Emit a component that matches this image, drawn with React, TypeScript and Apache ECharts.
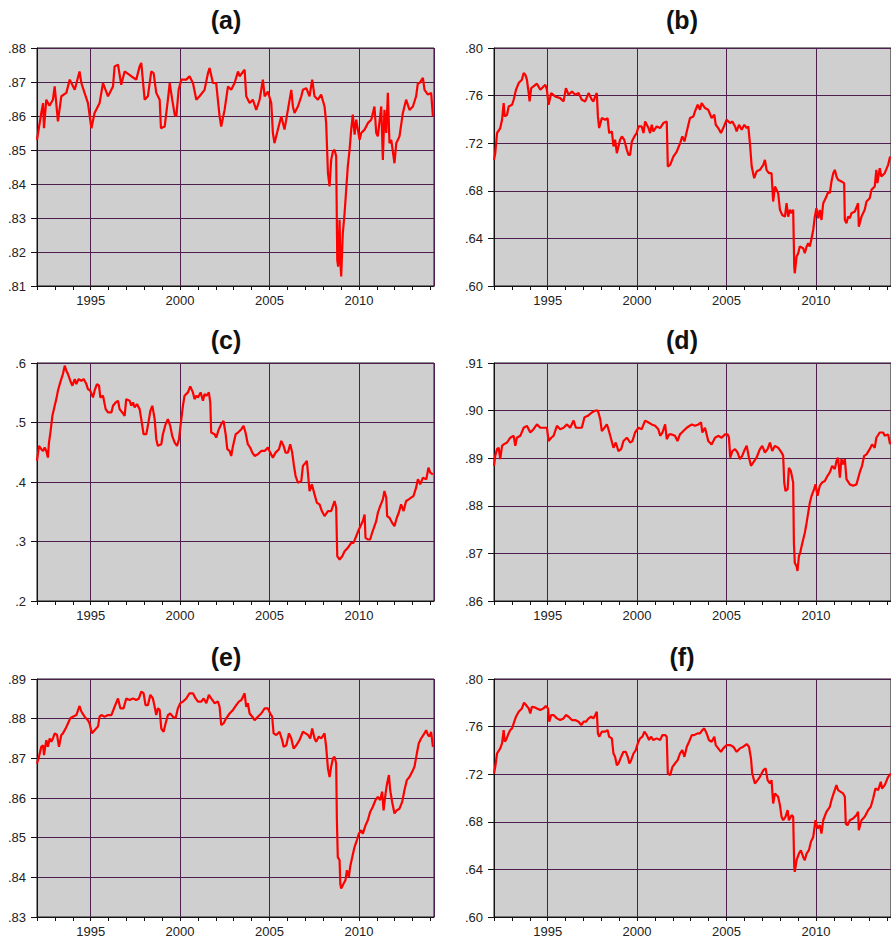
import React, { useEffect, useRef } from "react";
import * as echarts from "echarts";

const panelTitles = ["(a)", "(b)", "(c)", "(d)", "(e)", "(f)"];
const yMins = [0.81, 0.6, 0.2, 0.86, 0.83, 0.6];
const yMaxs = [0.88, 0.8, 0.6, 0.91, 0.89, 0.8];
const yIntervals = [0.01, 0.04, 0.1, 0.01, 0.01, 0.04];
const yDecimals = [2, 2, 1, 2, 2, 2];
const xStart = 1992;
const xEnd = 2014.2;
const majorYearStep = 5;

const dataA: number[][] = [[1992.00,.8530],[1992.24,.8609],[1992.34,.8638],[1992.39,.8564],[1992.52,.8648],[1992.70,.8630],[1992.89,.8648],[1992.99,.8687],[1993.17,.8584],[1993.36,.8658],[1993.64,.8668],[1993.83,.8707],[1994.11,.8677],[1994.38,.8731],[1994.48,.8697],[1994.66,.8668],[1994.85,.8638],[1995.04,.8564],[1995.22,.8609],[1995.50,.8638],[1995.69,.8697],[1995.97,.8658],[1996.25,.8687],[1996.34,.8746],[1996.53,.8751],[1996.71,.8692],[1996.90,.8731],[1997.27,.8717],[1997.55,.8707],[1997.74,.8746],[1997.83,.8756],[1998.02,.8648],[1998.20,.8658],[1998.39,.8731],[1998.52,.8726],[1998.67,.8668],[1998.86,.8648],[1998.93,.8564],[1999.14,.8569],[1999.32,.8648],[1999.42,.8697],[1999.56,.8648],[1999.70,.8604],[1999.79,.8599],[1999.92,.8677],[2000.07,.8707],[2000.35,.8707],[2000.53,.8717],[2000.72,.8697],[2000.91,.8648],[2001.09,.8658],[2001.37,.8677],[2001.56,.8726],[2001.65,.8741],[2001.84,.8697],[2002.02,.8697],[2002.21,.8599],[2002.30,.8569],[2002.49,.8618],[2002.68,.8687],[2002.86,.8677],[2003.05,.8697],[2003.24,.8731],[2003.33,.8717],[2003.61,.8736],[2003.70,.8658],[2003.89,.8638],[2004.07,.8648],[2004.26,.8618],[2004.45,.8648],[2004.63,.8707],[2004.73,.8658],[2004.91,.8672],[2005.10,.8638],[2005.19,.8550],[2005.28,.8520],[2005.47,.8560],[2005.66,.8599],[2005.84,.8560],[2006.03,.8618],[2006.22,.8677],[2006.31,.8628],[2006.40,.8609],[2006.59,.8628],[2006.78,.8658],[2006.87,.8677],[2007.06,.8682],[2007.24,.8658],[2007.39,.8707],[2007.52,.8658],[2007.71,.8648],[2007.89,.8663],[2008.08,.8628],[2008.17,.8579],[2008.27,.8432],[2008.36,.8393],[2008.45,.8471],[2008.55,.8496],[2008.64,.8501],[2008.73,.8481],[2008.79,.8177],[2008.84,.8157],[2008.92,.8295],[2008.96,.8177],[2009.01,.8128],[2009.10,.8255],[2009.20,.8314],[2009.29,.8383],[2009.38,.8452],[2009.48,.8501],[2009.57,.8560],[2009.66,.8604],[2009.76,.8545],[2009.85,.8589],[2010.04,.8530],[2010.13,.8550],[2010.32,.8560],[2010.50,.8579],[2010.69,.8589],[2010.87,.8628],[2010.97,.8550],[2011.06,.8540],[2011.25,.8628],[2011.34,.8471],[2011.43,.8618],[2011.53,.8550],[2011.62,.8668],[2011.71,.8520],[2011.81,.8530],[2011.99,.8461],[2012.09,.8520],[2012.27,.8540],[2012.46,.8609],[2012.64,.8648],[2012.83,.8618],[2013.02,.8628],[2013.20,.8658],[2013.30,.8697],[2013.39,.8697],[2013.58,.8712],[2013.67,.8677],[2013.86,.8663],[2014.04,.8668],[2014.14,.8599]];

const dataB: number[][] = [[1992.00,.7060],[1992.07,.7116],[1992.17,.7285],[1992.35,.7327],[1992.45,.7397],[1992.54,.7537],[1992.60,.7425],[1992.73,.7439],[1992.82,.7509],[1993.01,.7523],[1993.10,.7565],[1993.23,.7649],[1993.38,.7705],[1993.56,.7734],[1993.66,.7790],[1993.75,.7776],[1993.84,.7734],[1993.94,.7621],[1993.99,.7551],[1994.08,.7663],[1994.21,.7677],[1994.40,.7700],[1994.59,.7649],[1994.77,.7677],[1994.87,.7691],[1994.96,.7649],[1995.05,.7523],[1995.20,.7621],[1995.42,.7593],[1995.70,.7579],[1995.89,.7551],[1996.02,.7663],[1996.17,.7607],[1996.36,.7635],[1996.54,.7607],[1996.73,.7621],[1996.91,.7565],[1997.10,.7551],[1997.29,.7621],[1997.47,.7565],[1997.56,.7551],[1997.66,.7593],[1997.75,.7621],[1997.81,.7425],[1997.88,.7327],[1998.03,.7411],[1998.22,.7397],[1998.35,.7411],[1998.44,.7285],[1998.59,.7299],[1998.68,.7173],[1998.77,.7229],[1998.87,.7116],[1998.96,.7173],[1999.05,.7229],[1999.15,.7257],[1999.28,.7229],[1999.43,.7144],[1999.52,.7102],[1999.61,.7102],[1999.71,.7215],[1999.85,.7257],[1999.98,.7285],[2000.08,.7341],[2000.26,.7341],[2000.36,.7285],[2000.45,.7383],[2000.64,.7327],[2000.73,.7285],[2000.82,.7355],[2000.91,.7299],[2001.10,.7341],[2001.29,.7327],[2001.47,.7369],[2001.66,.7383],[2001.72,.7004],[2001.85,.7018],[2002.03,.7088],[2002.22,.7130],[2002.41,.7201],[2002.53,.7257],[2002.65,.7215],[2002.78,.7299],[2002.96,.7411],[2003.15,.7425],[2003.24,.7467],[2003.39,.7523],[2003.52,.7481],[2003.61,.7537],[2003.80,.7495],[2003.98,.7481],[2004.17,.7411],[2004.32,.7439],[2004.40,.7355],[2004.54,.7327],[2004.69,.7285],[2004.82,.7327],[2005.01,.7397],[2005.20,.7369],[2005.33,.7383],[2005.48,.7341],[2005.57,.7299],[2005.70,.7355],[2005.85,.7313],[2006.00,.7355],[2006.13,.7327],[2006.22,.7341],[2006.31,.7201],[2006.41,.7004],[2006.55,.6906],[2006.68,.6962],[2006.87,.6976],[2007.06,.7018],[2007.15,.7060],[2007.24,.6976],[2007.37,.6948],[2007.52,.6948],[2007.61,.6710],[2007.71,.6836],[2007.80,.6808],[2007.89,.6780],[2007.99,.6640],[2008.12,.6597],[2008.27,.6583],[2008.36,.6696],[2008.45,.6583],[2008.55,.6640],[2008.64,.6612],[2008.73,.6640],[2008.79,.6163],[2008.82,.6107],[2008.92,.6247],[2009.01,.6275],[2009.10,.6331],[2009.29,.6317],[2009.38,.6275],[2009.48,.6331],[2009.57,.6359],[2009.66,.6331],[2009.76,.6401],[2009.85,.6471],[2009.94,.6583],[2010.03,.6654],[2010.13,.6569],[2010.22,.6640],[2010.31,.6555],[2010.41,.6696],[2010.59,.6752],[2010.69,.6794],[2010.78,.6780],[2010.87,.6878],[2010.97,.6948],[2011.06,.6976],[2011.15,.6920],[2011.24,.6892],[2011.43,.6878],[2011.58,.6864],[2011.62,.6555],[2011.71,.6527],[2011.80,.6583],[2011.90,.6569],[2011.99,.6612],[2012.18,.6626],[2012.36,.6696],[2012.40,.6499],[2012.55,.6583],[2012.73,.6640],[2012.83,.6710],[2013.01,.6738],[2013.11,.6808],[2013.29,.6836],[2013.38,.6976],[2013.44,.6864],[2013.57,.6990],[2013.66,.6920],[2013.85,.6948],[2014.04,.7018],[2014.15,.7088]];

const dataC: number[][] = [[1992.00,.4354],[1992.11,.4607],[1992.24,.4551],[1992.34,.4522],[1992.43,.4579],[1992.52,.4522],[1992.61,.4410],[1992.67,.4663],[1992.75,.4831],[1992.86,.5112],[1992.99,.5281],[1993.08,.5393],[1993.17,.5534],[1993.30,.5674],[1993.45,.5815],[1993.55,.5955],[1993.64,.5871],[1993.73,.5815],[1993.86,.5702],[1993.98,.5618],[1994.11,.5730],[1994.20,.5646],[1994.33,.5730],[1994.48,.5702],[1994.61,.5730],[1994.76,.5646],[1994.85,.5562],[1994.98,.5534],[1995.13,.5421],[1995.22,.5534],[1995.35,.5646],[1995.47,.5618],[1995.54,.5421],[1995.69,.5449],[1995.84,.5225],[1995.97,.5169],[1996.16,.5169],[1996.25,.5281],[1996.40,.5337],[1996.53,.5365],[1996.62,.5225],[1996.77,.5169],[1996.90,.5112],[1996.99,.5393],[1997.18,.5365],[1997.27,.5281],[1997.37,.5337],[1997.46,.5253],[1997.59,.5309],[1997.74,.5225],[1997.83,.5056],[1997.96,.4803],[1998.11,.4803],[1998.20,.4944],[1998.34,.5197],[1998.45,.5281],[1998.58,.5056],[1998.67,.4719],[1998.76,.4607],[1998.95,.4635],[1999.04,.4803],[1999.19,.4972],[1999.32,.5056],[1999.45,.4944],[1999.56,.4775],[1999.70,.4663],[1999.83,.4607],[1999.94,.4719],[2000.07,.5056],[2000.16,.5281],[2000.25,.5449],[2000.44,.5506],[2000.57,.5607],[2000.72,.5506],[2000.81,.5393],[2000.91,.5449],[2001.00,.5421],[2001.15,.5506],[2001.28,.5365],[2001.37,.5478],[2001.47,.5449],[2001.61,.5506],[2001.69,.5337],[2001.74,.4831],[2001.93,.4803],[2002.02,.4747],[2002.17,.4888],[2002.30,.4972],[2002.43,.5028],[2002.55,.4803],[2002.64,.4551],[2002.77,.4522],[2002.86,.4438],[2002.96,.4607],[2003.11,.4803],[2003.24,.4831],[2003.43,.4888],[2003.55,.4944],[2003.66,.4831],[2003.79,.4635],[2003.92,.4579],[2004.04,.4494],[2004.17,.4438],[2004.35,.4466],[2004.54,.4522],[2004.73,.4522],[2004.91,.4579],[2005.04,.4494],[2005.19,.4410],[2005.34,.4494],[2005.53,.4551],[2005.66,.4691],[2005.79,.4607],[2005.90,.4494],[2006.03,.4494],[2006.16,.4635],[2006.27,.4494],[2006.37,.4270],[2006.46,.4101],[2006.59,.3989],[2006.78,.4017],[2006.87,.4270],[2007.02,.4326],[2007.09,.4354],[2007.15,.4157],[2007.24,.3848],[2007.37,.3961],[2007.52,.3792],[2007.65,.3652],[2007.80,.3624],[2007.93,.3511],[2008.08,.3427],[2008.27,.3511],[2008.45,.3511],[2008.64,.3680],[2008.73,.3567],[2008.79,.2753],[2008.92,.2697],[2009.07,.2753],[2009.20,.2837],[2009.38,.2893],[2009.57,.2978],[2009.70,.2978],[2009.85,.3090],[2010.00,.3202],[2010.13,.3287],[2010.22,.3343],[2010.32,.3455],[2010.37,.3062],[2010.50,.3034],[2010.63,.3034],[2010.74,.3146],[2010.87,.3258],[2010.97,.3343],[2011.06,.3483],[2011.19,.3596],[2011.34,.3708],[2011.43,.3848],[2011.53,.3736],[2011.58,.3427],[2011.71,.3399],[2011.86,.3315],[2011.99,.3258],[2012.12,.3399],[2012.23,.3483],[2012.36,.3624],[2012.50,.3511],[2012.64,.3680],[2012.79,.3708],[2012.92,.3736],[2013.05,.3764],[2013.20,.3904],[2013.30,.4045],[2013.43,.3961],[2013.58,.4073],[2013.77,.4045],[2013.89,.4242],[2013.99,.4157],[2014.14,.4129]];

const dataD: number[][] = [[1992.00,.8884],[1992.07,.8905],[1992.17,.8919],[1992.26,.8922],[1992.35,.8898],[1992.45,.8926],[1992.54,.8929],[1992.73,.8933],[1992.91,.8943],[1993.10,.8947],[1993.19,.8926],[1993.28,.8943],[1993.47,.8947],[1993.66,.8964],[1993.84,.8968],[1994.03,.8954],[1994.21,.8961],[1994.40,.8971],[1994.59,.8964],[1994.77,.8964],[1994.96,.8964],[1995.05,.8936],[1995.20,.8943],[1995.33,.8947],[1995.52,.8968],[1995.70,.8961],[1995.89,.8964],[1996.08,.8971],[1996.26,.8964],[1996.45,.8979],[1996.58,.8964],[1996.73,.8964],[1996.91,.8964],[1997.06,.8986],[1997.25,.8989],[1997.47,.8996],[1997.66,.9000],[1997.81,.9000],[1997.94,.8982],[1998.03,.8957],[1998.18,.8964],[1998.31,.8971],[1998.40,.8961],[1998.50,.8947],[1998.68,.8922],[1998.81,.8933],[1998.96,.8915],[1999.11,.8919],[1999.24,.8936],[1999.43,.8943],[1999.61,.8933],[1999.74,.8936],[1999.89,.8954],[2000.08,.8964],[2000.26,.8961],[2000.45,.8979],[2000.64,.8975],[2000.82,.8971],[2001.01,.8968],[2001.19,.8961],[2001.29,.8947],[2001.42,.8954],[2001.57,.8971],[2001.66,.8940],[2001.79,.8950],[2001.94,.8950],[2002.12,.8947],[2002.26,.8936],[2002.40,.8950],[2002.59,.8957],[2002.78,.8964],[2003.06,.8971],[2003.24,.8968],[2003.43,.8971],[2003.58,.8975],[2003.65,.8954],[2003.80,.8964],[2003.98,.8936],[2004.17,.8929],[2004.36,.8943],[2004.54,.8947],[2004.73,.8943],[2004.92,.8950],[2005.07,.8950],[2005.14,.8943],[2005.21,.8901],[2005.33,.8915],[2005.48,.8919],[2005.62,.8912],[2005.75,.8898],[2005.88,.8905],[2006.03,.8919],[2006.13,.8926],[2006.26,.8901],[2006.37,.8884],[2006.50,.8891],[2006.68,.8901],[2006.87,.8919],[2007.00,.8926],[2007.15,.8912],[2007.30,.8919],[2007.43,.8933],[2007.56,.8915],[2007.71,.8926],[2007.89,.8922],[2008.08,.8912],[2008.17,.8905],[2008.23,.8849],[2008.30,.8831],[2008.42,.8835],[2008.49,.8880],[2008.60,.8873],[2008.73,.8849],[2008.77,.8722],[2008.82,.8680],[2008.92,.8673],[2008.97,.8663],[2009.05,.8694],[2009.12,.8701],[2009.20,.8715],[2009.29,.8729],[2009.38,.8743],[2009.48,.8764],[2009.57,.8785],[2009.66,.8806],[2009.76,.8821],[2009.90,.8835],[2009.98,.8845],[2010.09,.8821],[2010.22,.8842],[2010.35,.8849],[2010.50,.8852],[2010.65,.8863],[2010.78,.8870],[2010.91,.8884],[2011.06,.8877],[2011.15,.8894],[2011.24,.8901],[2011.34,.8859],[2011.43,.8898],[2011.52,.8887],[2011.62,.8898],[2011.71,.8856],[2011.90,.8845],[2012.08,.8842],[2012.27,.8845],[2012.45,.8870],[2012.58,.8884],[2012.70,.8905],[2012.83,.8908],[2013.01,.8919],[2013.14,.8929],[2013.29,.8922],[2013.38,.8943],[2013.57,.8954],[2013.76,.8954],[2013.85,.8947],[2014.04,.8950],[2014.15,.8929]];

const dataE: number[][] = [[1992.00,.8687],[1992.11,.8704],[1992.24,.8729],[1992.34,.8733],[1992.39,.8708],[1992.52,.8746],[1992.61,.8729],[1992.71,.8750],[1992.80,.8742],[1992.89,.8750],[1992.99,.8763],[1993.12,.8759],[1993.23,.8729],[1993.36,.8759],[1993.45,.8763],[1993.60,.8775],[1993.73,.8788],[1993.86,.8801],[1994.01,.8805],[1994.20,.8809],[1994.38,.8832],[1994.48,.8818],[1994.66,.8805],[1994.85,.8796],[1994.94,.8788],[1995.07,.8763],[1995.22,.8771],[1995.41,.8780],[1995.50,.8805],[1995.60,.8809],[1995.78,.8805],[1995.97,.8809],[1996.16,.8809],[1996.34,.8830],[1996.53,.8851],[1996.66,.8826],[1996.84,.8826],[1996.99,.8851],[1997.18,.8847],[1997.37,.8851],[1997.55,.8847],[1997.70,.8851],[1997.83,.8868],[1997.96,.8864],[1998.07,.8834],[1998.20,.8834],[1998.34,.8860],[1998.48,.8851],[1998.58,.8830],[1998.67,.8809],[1998.76,.8826],[1998.86,.8822],[1998.95,.8775],[1999.08,.8767],[1999.19,.8788],[1999.32,.8809],[1999.45,.8813],[1999.60,.8805],[1999.75,.8801],[1999.88,.8826],[2000.01,.8839],[2000.16,.8843],[2000.35,.8851],[2000.53,.8864],[2000.72,.8864],[2000.87,.8851],[2001.00,.8843],[2001.19,.8843],[2001.32,.8851],[2001.47,.8839],[2001.61,.8860],[2001.74,.8851],[2001.93,.8839],[2002.12,.8843],[2002.21,.8830],[2002.30,.8784],[2002.43,.8788],[2002.58,.8801],[2002.77,.8813],[2002.96,.8822],[2003.14,.8834],[2003.29,.8843],[2003.43,.8847],[2003.61,.8864],[2003.70,.8830],[2003.79,.8839],[2003.89,.8813],[2004.04,.8805],[2004.17,.8796],[2004.35,.8805],[2004.54,.8813],[2004.73,.8826],[2004.91,.8826],[2005.04,.8813],[2005.15,.8805],[2005.23,.8763],[2005.38,.8759],[2005.56,.8767],[2005.71,.8746],[2005.79,.8729],[2005.94,.8733],[2006.09,.8763],[2006.22,.8750],[2006.35,.8725],[2006.50,.8733],[2006.68,.8746],[2006.87,.8767],[2007.02,.8763],[2007.15,.8759],[2007.28,.8750],[2007.39,.8775],[2007.52,.8750],[2007.61,.8742],[2007.76,.8755],[2007.89,.8750],[2008.08,.8763],[2008.17,.8729],[2008.27,.8674],[2008.36,.8653],[2008.45,.8679],[2008.55,.8700],[2008.64,.8704],[2008.73,.8687],[2008.77,.8544],[2008.82,.8451],[2008.92,.8443],[2008.96,.8384],[2009.01,.8372],[2009.14,.8384],[2009.25,.8393],[2009.33,.8418],[2009.44,.8401],[2009.51,.8426],[2009.63,.8451],[2009.76,.8477],[2009.89,.8494],[2010.00,.8510],[2010.13,.8519],[2010.22,.8510],[2010.37,.8531],[2010.50,.8544],[2010.63,.8565],[2010.78,.8578],[2010.93,.8595],[2011.06,.8603],[2011.19,.8595],[2011.30,.8616],[2011.38,.8569],[2011.49,.8611],[2011.56,.8632],[2011.68,.8658],[2011.75,.8620],[2011.86,.8590],[2011.99,.8561],[2012.12,.8569],[2012.27,.8573],[2012.42,.8590],[2012.55,.8620],[2012.68,.8645],[2012.83,.8653],[2013.02,.8670],[2013.11,.8679],[2013.24,.8712],[2013.35,.8738],[2013.48,.8750],[2013.61,.8759],[2013.76,.8771],[2013.86,.8759],[2013.95,.8755],[2014.04,.8767],[2014.14,.8729]];

const dataF: number[][] = [[1992.00,.7206],[1992.07,.7262],[1992.17,.7374],[1992.35,.7417],[1992.45,.7459],[1992.54,.7571],[1992.60,.7473],[1992.67,.7487],[1992.78,.7529],[1992.91,.7571],[1993.01,.7585],[1993.10,.7627],[1993.23,.7683],[1993.38,.7725],[1993.56,.7753],[1993.68,.7801],[1993.79,.7781],[1993.94,.7753],[1994.03,.7711],[1994.12,.7767],[1994.27,.7762],[1994.40,.7753],[1994.59,.7739],[1994.77,.7753],[1994.90,.7773],[1995.02,.7753],[1995.09,.7641],[1995.20,.7697],[1995.33,.7697],[1995.52,.7669],[1995.70,.7655],[1995.89,.7669],[1996.02,.7697],[1996.17,.7683],[1996.36,.7655],[1996.54,.7655],[1996.73,.7641],[1996.88,.7613],[1997.01,.7641],[1997.14,.7641],[1997.29,.7669],[1997.43,.7683],[1997.56,.7669],[1997.66,.7697],[1997.75,.7725],[1997.81,.7543],[1997.88,.7515],[1998.03,.7557],[1998.22,.7557],[1998.35,.7571],[1998.44,.7515],[1998.59,.7501],[1998.68,.7374],[1998.77,.7346],[1998.87,.7276],[1998.96,.7290],[1999.11,.7346],[1999.24,.7388],[1999.37,.7388],[1999.48,.7346],[1999.57,.7290],[1999.67,.7318],[1999.80,.7374],[1999.93,.7403],[2000.04,.7459],[2000.17,.7501],[2000.30,.7515],[2000.41,.7557],[2000.54,.7529],[2000.67,.7487],[2000.78,.7515],[2000.91,.7487],[2001.10,.7501],[2001.29,.7487],[2001.42,.7529],[2001.57,.7529],[2001.66,.7515],[2001.72,.7206],[2001.85,.7192],[2001.98,.7262],[2002.12,.7290],[2002.27,.7318],[2002.40,.7374],[2002.53,.7403],[2002.65,.7346],[2002.78,.7431],[2002.91,.7473],[2003.06,.7529],[2003.20,.7529],[2003.39,.7543],[2003.52,.7543],[2003.65,.7571],[2003.76,.7585],[2003.89,.7543],[2004.02,.7487],[2004.17,.7473],[2004.32,.7515],[2004.40,.7445],[2004.54,.7417],[2004.69,.7388],[2004.82,.7417],[2005.01,.7445],[2005.20,.7445],[2005.38,.7431],[2005.57,.7388],[2005.75,.7417],[2005.94,.7431],[2006.13,.7453],[2006.26,.7431],[2006.37,.7332],[2006.44,.7206],[2006.59,.7122],[2006.74,.7150],[2006.87,.7178],[2007.06,.7234],[2007.19,.7248],[2007.30,.7150],[2007.43,.7122],[2007.52,.7150],[2007.61,.6954],[2007.71,.7038],[2007.89,.7010],[2007.99,.6940],[2008.08,.6842],[2008.17,.6813],[2008.30,.6842],[2008.42,.6898],[2008.49,.6813],[2008.64,.6856],[2008.73,.6842],[2008.79,.6421],[2008.82,.6379],[2008.92,.6477],[2009.05,.6533],[2009.16,.6561],[2009.29,.6505],[2009.38,.6477],[2009.48,.6533],[2009.61,.6561],[2009.72,.6631],[2009.85,.6673],[2009.98,.6813],[2010.09,.6743],[2010.22,.6771],[2010.31,.6701],[2010.41,.6813],[2010.59,.6884],[2010.78,.6926],[2010.87,.6982],[2011.02,.7052],[2011.15,.7108],[2011.24,.7066],[2011.39,.7052],[2011.52,.7038],[2011.62,.7010],[2011.67,.6785],[2011.77,.6771],[2011.90,.6813],[2012.08,.6827],[2012.27,.6856],[2012.36,.6884],[2012.40,.6729],[2012.55,.6813],[2012.73,.6842],[2012.92,.6898],[2013.07,.6926],[2013.20,.6996],[2013.33,.7080],[2013.48,.7066],[2013.63,.7136],[2013.70,.7080],[2013.85,.7108],[2014.04,.7178],[2014.19,.7206]];

const panelData = [dataA, dataB, dataC, dataD, dataE, dataF];

const FONT = "'Liberation Sans', Arial, sans-serif";
const colLefts = [37, 494];
const rowTops = [48, 363, 679];
const titleCentersX = [226, 682];
const titleCentersY = [20, 340, 657];
const plotW = 397;
const plotH = 238;
const GRID_COLOR = "#4e1f4e";
const NONE = "rgba(0,0,0,0)";

export default function App() {
  const ref = useRef<HTMLDivElement>(null);
  useEffect(() => {
    if (!ref.current) return;
    const chart = echarts.init(ref.current, null, { renderer: "svg" });
    const grids: any[] = [];
    const xAxes: any[] = [];
    const yAxes: any[] = [];
    const series: any[] = [];
    const graphics: any[] = [];
    const splitColors = Array.from({ length: majorYearStep }, (_, k) =>
      (xStart + k) % majorYearStep === 0 ? GRID_COLOR : NONE
    );
    panelData.forEach((data, i) => {
      const col = i % 2;
      const row = Math.floor(i / 2);
      grids.push({
        left: colLefts[col],
        top: rowTops[row],
        width: plotW,
        height: plotH,
        show: true,
        backgroundColor: "#cfcfcf",
        borderColor: "#1a1a1a",
        borderWidth: 1,
      });
      xAxes.push({
        type: "value",
        gridIndex: i,
        min: xStart,
        max: xEnd,
        interval: 1,
        axisLine: { show: true, onZero: false, lineStyle: { color: "#111", width: 1 } },
        axisTick: { show: true, length: 4, lineStyle: { color: "#111" } },
        axisLabel: {
          fontSize: 13,
          fontFamily: FONT,
          color: "#222",
          margin: 8,
          showMaxLabel: false,
          formatter: (v: number) =>
            Math.abs(v - Math.round(v)) < 1e-6 && Math.round(v) % majorYearStep === 0
              ? String(Math.round(v))
              : "",
        },
        splitLine: { show: true, lineStyle: { color: splitColors, width: 1 } },
      });
      const d = yDecimals[i];
      yAxes.push({
        type: "value",
        gridIndex: i,
        min: yMins[i],
        max: yMaxs[i],
        interval: yIntervals[i],
        axisLine: { show: true, onZero: false, lineStyle: { color: "#111", width: 1 } },
        axisTick: { show: true, length: 6, lineStyle: { color: "#111" } },
        axisLabel: {
          fontSize: 13,
          fontFamily: FONT,
          color: "#222",
          margin: 11,
          formatter: (v: number) => v.toFixed(d).replace(/^0/, ""),
        },
        splitLine: { show: true, lineStyle: { color: GRID_COLOR, width: 1 } },
      });
      series.push({
        type: "line",
        xAxisIndex: i,
        yAxisIndex: i,
        data,
        showSymbol: false,
        symbol: "none",
        lineStyle: { color: "#ff0000", width: 2.2 },
        z: 5,
      });
      graphics.push({
        type: "text",
        x: titleCentersX[col],
        y: titleCentersY[row],
        style: {
          text: panelTitles[i],
          fill: "#111",
          font: `bold 25px ${FONT}`,
          align: "center",
          verticalAlign: "middle",
        },
      });
    });
    chart.setOption({
      animation: false,
      backgroundColor: "#ffffff",
      grid: grids,
      xAxis: xAxes,
      yAxis: yAxes,
      series,
      graphic: graphics,
    });
    return () => chart.dispose();
  }, []);
  return (
    <div
      ref={ref}
      style={{ position: "fixed", left: 0, top: 0, width: 891, height: 940 }}
    />
  );
}
